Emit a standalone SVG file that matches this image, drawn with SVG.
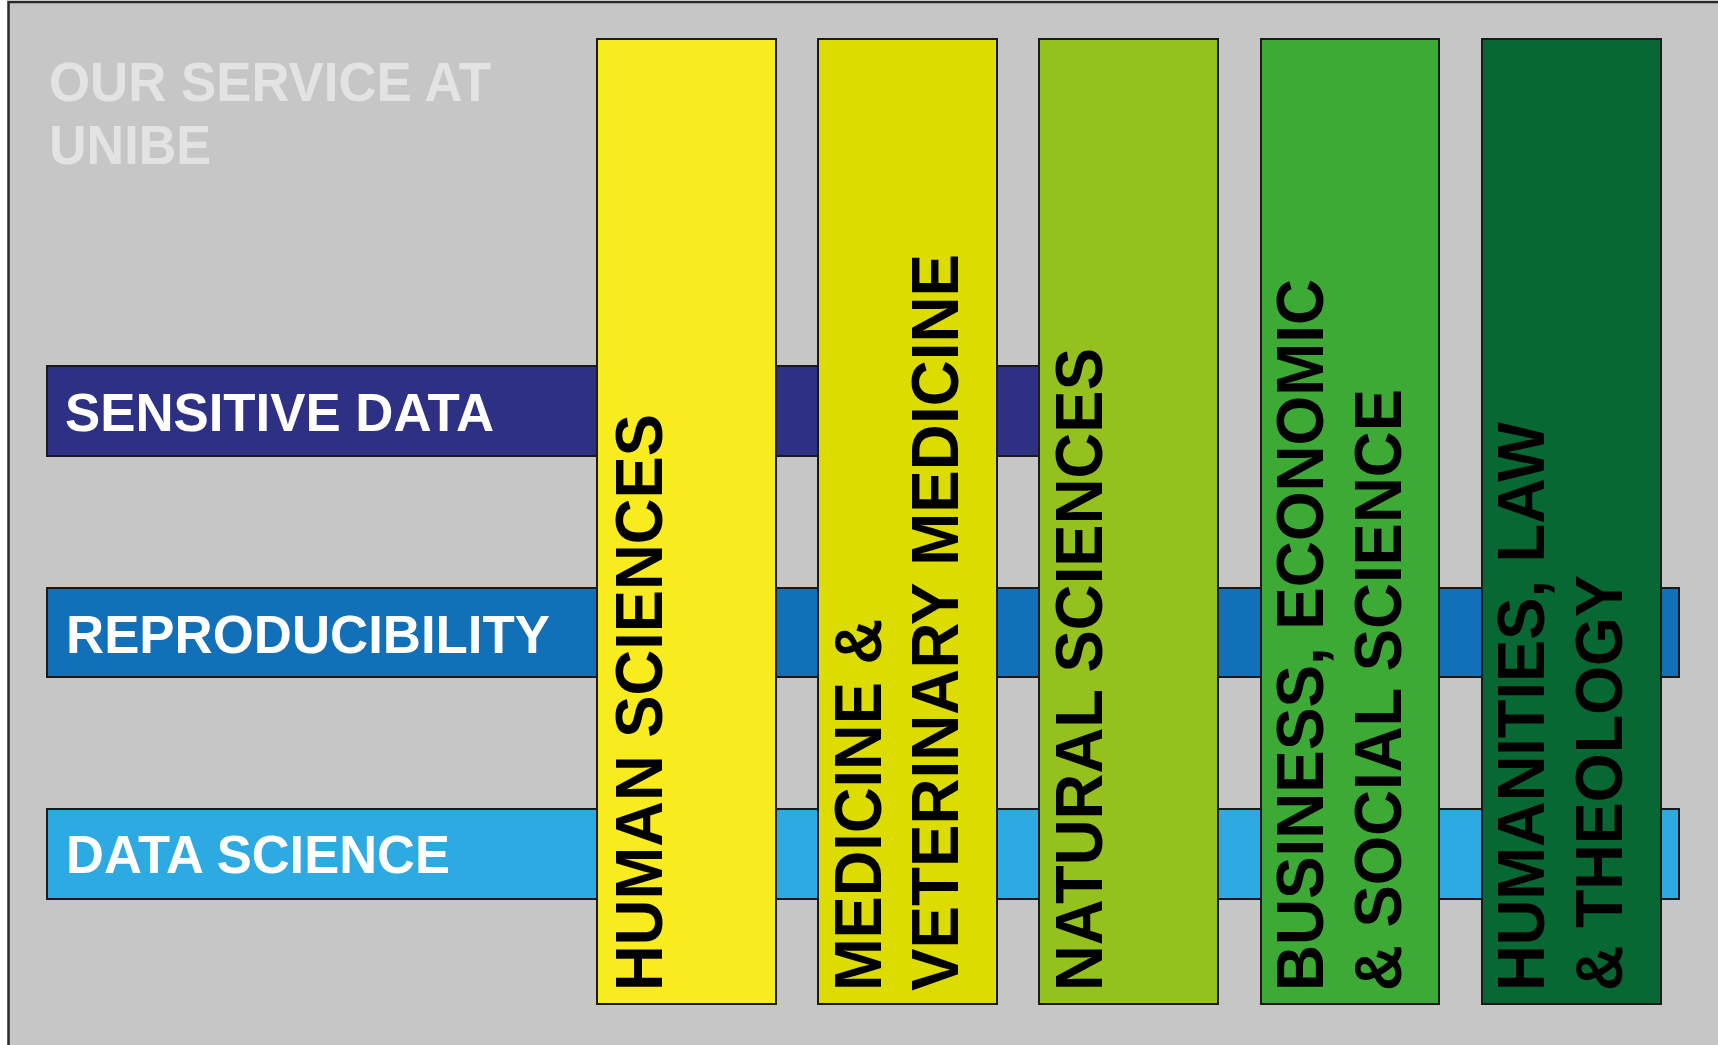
<svg xmlns="http://www.w3.org/2000/svg" width="1718" height="1045" viewBox="0 0 1718 1045">
  <style>
    .frame { fill: #c6c6c6; stroke: #2a2a2a; stroke-width: 2.5; }
    .band, .col { stroke: #1a1a1a; stroke-width: 2; }
    .title { font-family: "Liberation Sans", Arial, sans-serif; font-weight: bold; font-size: 56px; fill: #e3e3e3; }
    .bandtxt { font-family: "Liberation Sans", Arial, sans-serif; font-weight: bold; font-size: 54px; fill: #ffffff; }
    .coltxt { font-family: "Liberation Sans", Arial, sans-serif; font-weight: bold; font-size: 66px; fill: #000000; }
  </style>
  <rect x="0" y="0" width="1718" height="1045" fill="#ffffff"/>
  <rect class="frame" x="8.5" y="2" width="1730" height="1060"/>

  <g id="title">
    <text class="title" x="49" y="101" textLength="442" lengthAdjust="spacingAndGlyphs">OUR SERVICE AT</text>
    <text class="title" x="49" y="164" textLength="162" lengthAdjust="spacingAndGlyphs">UNIBE</text>
  </g>

  <g id="band-sensitive-data">
    <rect class="band" x="47" y="366" width="1000" height="90" fill="#2e3083"/>
    <text class="bandtxt" x="65" y="431" textLength="429" lengthAdjust="spacingAndGlyphs">SENSITIVE DATA</text>
  </g>
  <g id="band-reproducibility">
    <rect class="band" x="47" y="588" width="1632" height="89" fill="#1170b8"/>
    <text class="bandtxt" x="66" y="653" textLength="484" lengthAdjust="spacingAndGlyphs">REPRODUCIBILITY</text>
  </g>
  <g id="band-data-science">
    <rect class="band" x="47" y="809" width="1632" height="90" fill="#2eaae2"/>
    <text class="bandtxt" x="66" y="873" textLength="384" lengthAdjust="spacingAndGlyphs">DATA SCIENCE</text>
  </g>

  <g id="col-human-sciences">
    <rect class="col" x="597" y="39" width="179" height="965" fill="#f8eb1e"/>
    <text class="coltxt" transform="translate(662,991) rotate(-90)" textLength="577" lengthAdjust="spacingAndGlyphs">HUMAN SCIENCES</text>
  </g>
  <g id="col-medicine">
    <rect class="col" x="818" y="39" width="179" height="965" fill="#dcdc00"/>
    <text class="coltxt" transform="translate(881,991) rotate(-90)" textLength="372" lengthAdjust="spacingAndGlyphs">MEDICINE &amp;</text>
    <text class="coltxt" transform="translate(958,991) rotate(-90)" textLength="737" lengthAdjust="spacingAndGlyphs">VETERINARY MEDICINE</text>
  </g>
  <g id="col-natural-sciences">
    <rect class="col" x="1039" y="39" width="179" height="965" fill="#95c11f"/>
    <text class="coltxt" transform="translate(1102,991) rotate(-90)" textLength="643" lengthAdjust="spacingAndGlyphs">NATURAL SCIENCES</text>
  </g>
  <g id="col-business">
    <rect class="col" x="1261" y="39" width="178" height="965" fill="#3caa35"/>
    <text class="coltxt" transform="translate(1323,991) rotate(-90)" textLength="712" lengthAdjust="spacingAndGlyphs">BUSINESS, ECONOMIC</text>
    <text class="coltxt" transform="translate(1401,991) rotate(-90)" textLength="602" lengthAdjust="spacingAndGlyphs">&amp; SOCIAL SCIENCE</text>
  </g>
  <g id="col-humanities">
    <rect class="col" x="1482" y="39" width="179" height="965" fill="#086834"/>
    <text class="coltxt" transform="translate(1544,991) rotate(-90)" textLength="569" lengthAdjust="spacingAndGlyphs">HUMANITIES, LAW</text>
    <text class="coltxt" transform="translate(1622,991) rotate(-90)" textLength="416" lengthAdjust="spacingAndGlyphs">&amp; THEOLOGY</text>
  </g>

  <g id="connectors"/>
</svg>
